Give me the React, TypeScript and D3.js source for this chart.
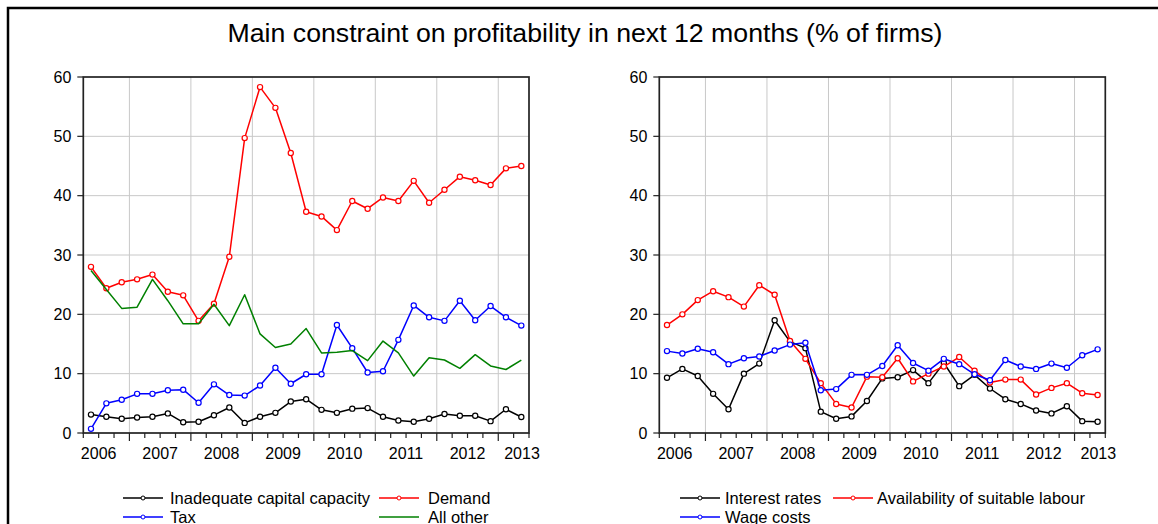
import React from 'react';
import * as d3 from 'd3';

const quarters = ['2006Q2','2006Q3','2006Q4','2007Q1','2007Q2','2007Q3','2007Q4','2008Q1','2008Q2','2008Q3','2008Q4','2009Q1','2009Q2','2009Q3','2009Q4','2010Q1','2010Q2','2010Q3','2010Q4','2011Q1','2011Q2','2011Q3','2011Q4','2012Q1','2012Q2','2012Q3','2012Q4','2013Q1','2013Q2'];
const years = ['2006','2007','2008','2009','2010','2011','2012','2013'];
const yTicks = [0, 10, 20, 30, 40, 50, 60];

const capital = [3.1,2.75,2.4,2.6,2.75,3.3,1.8,1.9,3.0,4.3,1.7,2.75,3.4,5.3,5.7,3.9,3.4,4.1,4.2,2.75,2.1,1.9,2.4,3.2,2.9,2.9,2.0,4.0,2.7];
const demand = [28.0,24.4,25.4,25.9,26.7,23.8,23.2,18.9,21.8,29.7,49.7,58.3,54.8,47.2,37.3,36.5,34.2,39.1,37.8,39.7,39.1,42.5,38.8,41.0,43.2,42.6,41.8,44.6,45.0];
const tax = [0.7,5.0,5.6,6.6,6.6,7.2,7.3,5.1,8.2,6.4,6.3,8.0,11.0,8.3,9.9,9.9,18.2,14.3,10.2,10.4,15.7,21.5,19.5,18.9,22.3,19.0,21.4,19.5,18.1];
const allOther = [27.4,24.2,21.0,21.2,25.9,22.3,18.4,18.4,21.7,18.1,23.3,16.7,14.4,15.0,17.6,13.5,13.6,13.9,12.2,15.5,13.5,9.6,12.7,12.3,10.9,13.2,11.3,10.7,12.3];

const interest = [9.3,10.8,9.6,6.6,4.0,10.0,11.7,19.0,15.4,14.3,3.6,2.4,2.8,5.4,9.2,9.4,10.6,8.4,11.8,7.9,9.8,7.5,5.7,4.9,3.8,3.3,4.5,2.0,1.9];
const labour = [18.2,20.0,22.4,23.9,22.9,21.3,24.9,23.3,15.5,12.5,8.4,4.9,4.3,9.5,9.4,12.6,8.7,10.0,11.2,12.8,10.5,8.5,9.0,9.0,6.5,7.6,8.4,6.7,6.4];
const wage = [13.8,13.4,14.2,13.6,11.6,12.6,12.9,13.9,14.9,15.2,7.2,7.4,9.8,9.8,11.3,14.8,11.8,10.5,12.5,11.6,9.9,8.9,12.3,11.2,10.8,11.7,11.0,13.1,14.1];

type Series = { name: string; values: number[]; color: string; markers: boolean };

const leftSeries: Series[] = [
  { name: 'Inadequate capital capacity', values: capital, color: '#000000', markers: true },
  { name: 'Demand', values: demand, color: '#ff0000', markers: true },
  { name: 'Tax', values: tax, color: '#0000ff', markers: true },
  { name: 'All other', values: allOther, color: '#008000', markers: false },
];
const rightSeries: Series[] = [
  { name: 'Interest rates', values: interest, color: '#000000', markers: true },
  { name: 'Availability of suitable labour', values: labour, color: '#ff0000', markers: true },
  { name: 'Wage costs', values: wage, color: '#0000ff', markers: true },
];

const FONT = '"Liberation Sans", Arial, sans-serif';

function Panel({ x0, x1, series, legendCols }: { x0: number; x1: number; series: Series[]; legendCols: { line: number; text: number }[] }) {
  const top = 77, bottom = 433;
  const n = quarters.length;
  const x = d3.scaleLinear().domain([-0.5, n - 0.5]).range([x0, x1]);
  const y = d3.scaleLinear().domain([0, 60]).range([bottom, top]);
  const line = d3.line<number>().x((_, i) => x(i)).y((v) => y(v));
  const firstQ1 = quarters.findIndex((q) => q.endsWith('Q1'));
  const majors: number[] = [];
  for (let i = firstQ1; i < n; i += 4) majors.push(i - 0.5);
  const minors: number[] = d3.range(-0.5, n, 1);
  const fs = 16;
  const lfs = 16.5;
  return (
    <g>
      {yTicks.filter((t) => t > 0 && t < 60).map((t) => (
        <line key={'gy' + t} x1={x0} x2={x1} y1={y(t)} y2={y(t)} stroke="#c8c8c8" strokeWidth={1} />
      ))}
      {majors.map((m) => (
        <line key={'gx' + m} x1={x(m)} x2={x(m)} y1={top} y2={bottom} stroke="#c8c8c8" strokeWidth={1} />
      ))}
      {series.map((s) => (
        <g key={s.name}>
          <path d={line(s.values) || ''} fill="none" stroke={s.color} strokeWidth={1.5} strokeLinejoin="round" />
          {s.markers && s.values.map((v, i) => (
            <circle key={i} cx={x(i)} cy={y(v)} r={2.6} fill="#ffffff" stroke={s.color} strokeWidth={1.2} />
          ))}
        </g>
      ))}
      <rect x={x0} y={top} width={x1 - x0} height={bottom - top} fill="none" stroke="#222" strokeWidth={1.7} />
      {yTicks.map((t) => (
        <g key={'yt' + t}>
          <line x1={x0 - 6} x2={x0} y1={y(t)} y2={y(t)} stroke="#222" strokeWidth={1.2} />
          <text x={x0 - 12} y={y(t)} dy="0.35em" textAnchor="end" fontSize={fs} fontFamily={FONT} fill="#000">{t}</text>
        </g>
      ))}
      {minors.map((m) => {
        const major = majors.includes(m);
        return <line key={'xt' + m} x1={x(m)} x2={x(m)} y1={bottom} y2={bottom + (major ? 8 : 5)} stroke="#222" strokeWidth={1.2} />;
      })}
      {years.map((yr, k) => {
        const cx = Math.min(x(firstQ1 + 4 * (k - 1) + 1.5), x1 - 7);
        return (
          <text key={yr} x={cx} y={bottom + 26} textAnchor="middle" fontSize={fs} fontFamily={FONT} fill="#000">{yr}</text>
        );
      })}
      {series.map((s, k) => {
        const col = legendCols[k % 2];
        const ly = 498 + Math.floor(k / 2) * 19;
        return (
          <g key={'lg' + s.name}>
            <line x1={col.line} x2={col.line + 40} y1={ly} y2={ly} stroke={s.color} strokeWidth={1.5} />
            {s.markers && <circle cx={col.line + 20} cy={ly} r={2} fill="#fff" stroke={s.color} strokeWidth={1} />}
            <text x={col.text} y={ly} dy="0.35em" fontSize={lfs} fontFamily={FONT} fill="#000">{s.name}</text>
          </g>
        );
      })}
    </g>
  );
}

export default function App() {
  return (
    <svg width={1158} height={524} style={{ position: 'absolute', left: 0, top: 0, background: '#fff' }}>
      <rect x={0} y={0} width={1158} height={524} fill="#fff" />
      <rect x={8} y={8} width={1170} height={540} fill="none" stroke="#000" strokeWidth={2.5} />
      <text x={585} y={42} textAnchor="middle" fontSize={26.7} fontFamily={FONT} fill="#000">
        Main constraint on profitability in next 12 months (% of firms)
      </text>
      <Panel x0={83.3} x1={529} series={leftSeries} legendCols={[{ line: 123, text: 170 }, { line: 379, text: 428 }]} />
      <Panel x0={659.3} x1={1105.3} series={rightSeries} legendCols={[{ line: 680, text: 725 }, { line: 833, text: 877 }]} />
    </svg>
  );
}
